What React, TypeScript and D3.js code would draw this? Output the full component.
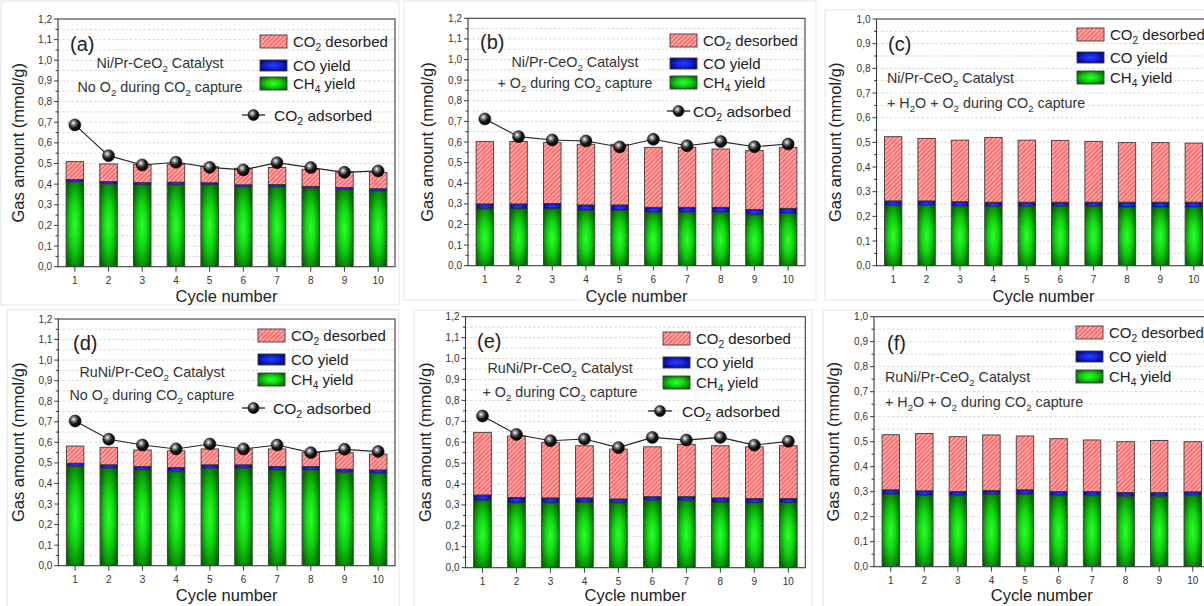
import React from "react";
import * as d3 from "d3";

// ---------- DATA ----------
const CYCLES = [1, 2, 3, 4, 5, 6, 7, 8, 9, 10];

// (a) Ni/Pr-CeO2, no O2
const A_CH4 = [0.41, 0.4, 0.395, 0.395, 0.395, 0.385, 0.385, 0.377, 0.372, 0.365];
const A_CO = [0.012, 0.012, 0.013, 0.014, 0.011, 0.011, 0.013, 0.012, 0.011, 0.012];
const A_DES = [0.087, 0.086, 0.088, 0.088, 0.079, 0.081, 0.083, 0.083, 0.077, 0.08];
const A_ADS = [0.687, 0.538, 0.493, 0.506, 0.481, 0.469, 0.504, 0.48, 0.457, 0.464];

// (b) Ni/Pr-CeO2, + O2
const B_CH4 = [0.275, 0.275, 0.275, 0.267, 0.267, 0.257, 0.257, 0.257, 0.246, 0.252];
const B_CO = [0.024, 0.024, 0.027, 0.027, 0.027, 0.026, 0.026, 0.026, 0.027, 0.026];
const B_DES = [0.303, 0.303, 0.295, 0.295, 0.295, 0.291, 0.291, 0.283, 0.285, 0.296];
const B_ADS = [0.712, 0.626, 0.61, 0.605, 0.576, 0.613, 0.582, 0.602, 0.577, 0.59];

// (c) Ni/Pr-CeO2, + H2O + O2
const C_CH4 = [0.243, 0.243, 0.239, 0.239, 0.239, 0.239, 0.239, 0.236, 0.236, 0.236];
const C_CO = [0.019, 0.019, 0.02, 0.018, 0.018, 0.018, 0.018, 0.021, 0.021, 0.021];
const C_DES = [0.261, 0.254, 0.25, 0.263, 0.252, 0.251, 0.247, 0.242, 0.242, 0.24];

// (d) RuNi/Pr-CeO2, no O2
const D_CH4 = [0.482, 0.473, 0.465, 0.457, 0.473, 0.473, 0.465, 0.465, 0.454, 0.449];
const D_CO = [0.016, 0.017, 0.017, 0.02, 0.017, 0.017, 0.017, 0.017, 0.015, 0.016];
const D_DES = [0.084, 0.086, 0.081, 0.082, 0.078, 0.078, 0.086, 0.068, 0.081, 0.078];
const D_ADS = [0.704, 0.615, 0.587, 0.568, 0.592, 0.568, 0.587, 0.55, 0.566, 0.555];

// (e) RuNi/Pr-CeO2, + O2
const E_CH4 = [0.32, 0.309, 0.309, 0.312, 0.309, 0.32, 0.32, 0.312, 0.309, 0.309];
const E_CO = [0.027, 0.027, 0.024, 0.021, 0.019, 0.019, 0.019, 0.021, 0.021, 0.021];
const E_DES = [0.3, 0.293, 0.265, 0.25, 0.239, 0.239, 0.251, 0.25, 0.248, 0.253];
const E_ADS = [0.725, 0.637, 0.607, 0.615, 0.574, 0.623, 0.61, 0.623, 0.586, 0.604];

// (f) RuNi/Pr-CeO2, + H2O + O2
const F_CH4 = [0.289, 0.285, 0.284, 0.288, 0.289, 0.284, 0.284, 0.28, 0.28, 0.284];
const F_CO = [0.018, 0.018, 0.017, 0.016, 0.018, 0.017, 0.016, 0.016, 0.016, 0.015];
const F_DES = [0.221, 0.23, 0.219, 0.223, 0.216, 0.211, 0.207, 0.204, 0.209, 0.201];

const LEGEND_LABELS = ["CO_2 desorbed", "CO yield", "CH_4 yield"];
const ADS_LABEL = "CO_2 adsorbed";
const X_TITLE = "Cycle number";
const Y_TITLE = "Gas amount (mmol/g)";

// ---------- LAYOUT ----------
type Panel = {
  tag: string;
  ch4: number[]; co: number[]; des: number[]; ads: number[] | null;
  left: number; right: number; top: number; bottom: number; ymax: number;
  tagX: number; tagY: number;
  notes: string[]; noteAnchor: "middle" | "start"; noteX: number; noteY: number[];
  legX: number; legTops: number[];
  adsLeg: { x1: number; x2: number; y: number; tx: number } | null;
  yTitleX: number; xTitleY: number;
  frame: [number, number, number, number];
};

const PANELS: Panel[] = [
  {
    tag: "(a)", ch4: A_CH4, co: A_CO, des: A_DES, ads: A_ADS,
    left: 58, right: 395, top: 19, bottom: 266.7, ymax: 1.2,
    tagX: 70, tagY: 51,
    notes: ["Ni/Pr-CeO_2 Catalyst", "No O_2 during CO_2 capture"], noteAnchor: "middle", noteX: 160, noteY: [68, 92],
    legX: 260, legTops: [35, 60, 77],
    adsLeg: { x1: 242, x2: 265, y: 115, tx: 274 },
    yTitleX: 18, xTitleY: 302, frame: [1, 1, 399, 305],
  },
  {
    tag: "(b)", ch4: B_CH4, co: B_CO, des: B_DES, ads: B_ADS,
    left: 468, right: 805, top: 18.3, bottom: 265.7, ymax: 1.2,
    tagX: 480, tagY: 49,
    notes: ["Ni/Pr-CeO_2 Catalyst", "+ O_2 during CO_2 capture"], noteAnchor: "middle", noteX: 575, noteY: [67, 88],
    legX: 670, legTops: [34, 58, 76],
    adsLeg: { x1: 667, x2: 690, y: 111, tx: 693 },
    yTitleX: 427, xTitleY: 302, frame: [404, 1, 816, 300],
  },
  {
    tag: "(c)", ch4: C_CH4, co: C_CO, des: C_DES, ads: null,
    left: 876.5, right: 1210.5, top: 19, bottom: 265.7, ymax: 1.0,
    tagX: 888, tagY: 51,
    notes: ["Ni/Pr-CeO_2 Catalyst", "+ H_2O + O_2 during CO_2 capture"], noteAnchor: "start", noteX: 887, noteY: [83, 108],
    legX: 1077, legTops: [28, 52, 71],
    adsLeg: null,
    yTitleX: 835, xTitleY: 302, frame: [825, 10, 1215, 300],
  },
  {
    tag: "(d)", ch4: D_CH4, co: D_CO, des: D_DES, ads: D_ADS,
    left: 58.3, right: 395, top: 319, bottom: 565.7, ymax: 1.2,
    tagX: 73, tagY: 350,
    notes: ["RuNi/Pr-CeO_2 Catalyst", "No O_2 during CO_2 capture"], noteAnchor: "middle", noteX: 152, noteY: [377, 400],
    legX: 258, legTops: [329, 354, 373],
    adsLeg: { x1: 242, x2: 265, y: 408, tx: 273 },
    yTitleX: 18, xTitleY: 601, frame: [7, 310, 399, 610],
  },
  {
    tag: "(e)", ch4: E_CH4, co: E_CO, des: E_DES, ads: E_ADS,
    left: 465.5, right: 805.3, top: 316.7, bottom: 567.7, ymax: 1.2,
    tagX: 477, tagY: 348,
    notes: ["RuNi/Pr-CeO_2 Catalyst", "+ O_2 during CO_2 capture"], noteAnchor: "middle", noteX: 560, noteY: [373, 397],
    legX: 663, legTops: [332, 357, 376],
    adsLeg: { x1: 648, x2: 672, y: 411, tx: 682 },
    yTitleX: 425, xTitleY: 601, frame: [414, 310, 812, 610],
  },
  {
    tag: "(f)", ch4: F_CH4, co: F_CO, des: F_DES, ads: null,
    left: 874, right: 1209.5, top: 316.7, bottom: 566.7, ymax: 1.0,
    tagX: 887, tagY: 350,
    notes: ["RuNi/Pr-CeO_2 Catalyst", "+ H_2O + O_2 during CO_2 capture"], noteAnchor: "start", noteX: 885, noteY: [382, 407],
    legX: 1076, legTops: [326, 351, 370],
    adsLeg: null,
    yTitleX: 833, xTitleY: 601, frame: [823, 310, 1215, 610],
  },
];

const FONT = "'Liberation Sans', Arial, Helvetica, sans-serif";
const AXIS = "#3a3a3a";

function Rich({ s, fs }: { s: string; fs: number }) {
  const parts = s.split(/_(\w)/);
  const out: any[] = [];
  let shifted = false;
  parts.forEach((p, i) => {
    if (p === "") return;
    if (i % 2 === 1) {
      out.push(
        <tspan key={i} fontSize={fs * 0.68} dy={fs * 0.28}>{p}</tspan>
      );
      shifted = true;
    } else {
      out.push(
        <tspan key={i} dy={shifted ? -fs * 0.28 : 0}>{p}</tspan>
      );
      shifted = false;
    }
  });
  return <>{out}</>;
}

const fmt = (v: number) => d3.format(".1f")(v).replace(".", ",");

function PanelView({ p }: { p: Panel }) {
  const x = d3.scaleLinear().domain([0.5, 10.5]).range([p.left, p.right]);
  const y = d3.scaleLinear().domain([0, p.ymax]).range([p.bottom, p.top]);
  const step = x(2) - x(1);
  const bw = step * 0.52;
  const nMajor = Math.round(p.ymax / 0.1);
  const majors = d3.range(0, nMajor + 1).map((i) => +(i * 0.1).toFixed(2));
  const minors = d3.range(0, nMajor).map((i) => +(i * 0.1 + 0.05).toFixed(3));
  const grid = [...majors, ...minors].filter((v) => v > 0 && v < p.ymax - 1e-6);
  const line = d3.line<number>().x((_, i) => x(CYCLES[i])).y((v) => y(v));
  const clipId = `clip-${p.tag.replace(/\W/g, "")}`;

  return (
    <g fontFamily={FONT}>
      <rect x={p.frame[0]} y={p.frame[1]} width={p.frame[2] - p.frame[0]} height={p.frame[3] - p.frame[1]}
        fill="none" stroke="#e6e6e6" strokeWidth={1} />
      <clipPath id={clipId}>
        <rect x={p.left} y={p.top} width={p.right - p.left} height={p.bottom - p.top} />
      </clipPath>
      {grid.map((v) => (
        <line key={`g${v}`} x1={p.left} x2={p.right} y1={y(v)} y2={y(v)}
          stroke="#cfcfcf" strokeWidth={0.8} strokeDasharray="2.5,2" />
      ))}
      <g clipPath={`url(#${clipId})`}>
        {CYCLES.map((c, i) => {
          const y0 = 0, y1 = p.ch4[i], y2 = y1 + p.co[i], y3 = y2 + p.des[i];
          const bx = x(c) - bw / 2;
          return (
            <g key={c} stroke="#3c3c3c" strokeWidth={0.9}>
              <rect x={bx} y={y(y3)} width={bw} height={y(y2) - y(y3)} fill="url(#hatch)" />
              <rect x={bx} y={y(y2)} width={bw} height={y(y1) - y(y2)} fill="url(#blueGrad)" />
              <rect x={bx} y={y(y1)} width={bw} height={y(y0) - y(y1)} fill="url(#greenGrad)" />
            </g>
          );
        })}
      </g>
      {p.ads && (
        <g>
          <path d={line(p.ads) || ""} fill="none" stroke="#222" strokeWidth={1.1} />
          {p.ads.map((v, i) => (
            <circle key={i} cx={x(CYCLES[i])} cy={y(v)} r={6} fill="url(#ball)" stroke="#111" strokeWidth={0.6} />
          ))}
        </g>
      )}
      <rect x={p.left} y={p.top} width={p.right - p.left} height={p.bottom - p.top}
        fill="none" stroke={AXIS} strokeWidth={1.1} />
      {majors.map((v) => (
        <g key={`yt${v}`}>
          <line x1={p.left - 4} x2={p.left} y1={y(v)} y2={y(v)} stroke={AXIS} strokeWidth={1} />
          <text x={p.left - 6} y={y(v) + 3.5} fontSize={10} textAnchor="end" fill="#333">{fmt(v)}</text>
        </g>
      ))}
      {minors.map((v) => (
        <line key={`ym${v}`} x1={p.left - 2.5} x2={p.left} y1={y(v)} y2={y(v)} stroke={AXIS} strokeWidth={1} />
      ))}
      {CYCLES.map((c) => (
        <g key={`xt${c}`}>
          <line x1={x(c)} x2={x(c)} y1={p.bottom} y2={p.bottom + 5} stroke={AXIS} strokeWidth={1} />
          <text x={x(c)} y={p.bottom + 17} fontSize={10} textAnchor="middle" fill="#333">{c}</text>
        </g>
      ))}
      <text x={(p.left + p.right) / 2} y={p.xTitleY} fontSize={16.5} textAnchor="middle" fill="#222">{X_TITLE}</text>
      <text transform={`translate(${p.yTitleX},${(p.top + p.bottom) / 2}) rotate(-90)`} fontSize={16.5}
        textAnchor="middle" dominantBaseline="central" fill="#222">{Y_TITLE}</text>
      <text x={p.tagX} y={p.tagY} fontSize={20} fill="#222">{p.tag}</text>
      {p.notes.map((n, i) => (
        <text key={n} x={p.noteX} y={p.noteY[i]} fontSize={14.3} textAnchor={p.noteAnchor} fill="#333">
          <Rich s={n} fs={14.3} />
        </text>
      ))}
      {LEGEND_LABELS.map((l, i) => {
        const h = i === 1 ? 11 : 13;
        const fills = ["url(#hatch)", "url(#blueGrad)", "url(#greenGrad)"];
        const top = p.legTops[i];
        return (
          <g key={l}>
            <rect x={p.legX} y={top} width={27} height={h} fill={fills[i]} stroke="#3c3c3c" strokeWidth={0.9} />
            <text x={p.legX + 33} y={top + h / 2 + 5} fontSize={15} fill="#222">
              <Rich s={l} fs={15} />
            </text>
          </g>
        );
      })}
      {p.adsLeg && (
        <g>
          <line x1={p.adsLeg.x1} x2={p.adsLeg.x2} y1={p.adsLeg.y} y2={p.adsLeg.y} stroke="#222" strokeWidth={1.3} />
          <circle cx={(p.adsLeg.x1 + p.adsLeg.x2) / 2} cy={p.adsLeg.y} r={5.5} fill="url(#ball)" stroke="#111" strokeWidth={0.6} />
          <text x={p.adsLeg.tx} y={p.adsLeg.y + 5.5} fontSize={15.5} fill="#222">
            <Rich s={ADS_LABEL} fs={15.5} />
          </text>
        </g>
      )}
    </g>
  );
}

export default function App() {
  return (
    <svg width={1204} height={606} viewBox="0 0 1204 606"
      style={{ position: "absolute", left: 0, top: 0, background: "#fff" }}>
      <defs>
        <radialGradient id="greenGrad" cx="50%" cy="50%" r="62%">
          <stop offset="0%" stopColor="#2cff2c" />
          <stop offset="45%" stopColor="#12d412" />
          <stop offset="100%" stopColor="#006400" />
        </radialGradient>
        <radialGradient id="blueGrad" cx="50%" cy="50%" r="60%">
          <stop offset="0%" stopColor="#2a3cff" />
          <stop offset="55%" stopColor="#1020d0" />
          <stop offset="100%" stopColor="#00007a" />
        </radialGradient>
        <pattern id="hatch" patternUnits="userSpaceOnUse" width={3.2} height={3.2} patternTransform="rotate(45)">
          <rect width={3.2} height={3.2} fill="#ff6a6a" />
          <line x1={0.8} y1={0} x2={0.8} y2={3.2} stroke="#ffc4c4" strokeWidth={1.1} />
        </pattern>
        <radialGradient id="ball" cx="38%" cy="35%" r="65%">
          <stop offset="0%" stopColor="#ffffff" />
          <stop offset="25%" stopColor="#8a8a8a" />
          <stop offset="60%" stopColor="#1a1a1a" />
          <stop offset="100%" stopColor="#000" />
        </radialGradient>
      </defs>
      <rect width={1204} height={606} fill="#fff" />
      {PANELS.map((p) => (
        <PanelView key={p.tag} p={p} />
      ))}
    </svg>
  );
}
